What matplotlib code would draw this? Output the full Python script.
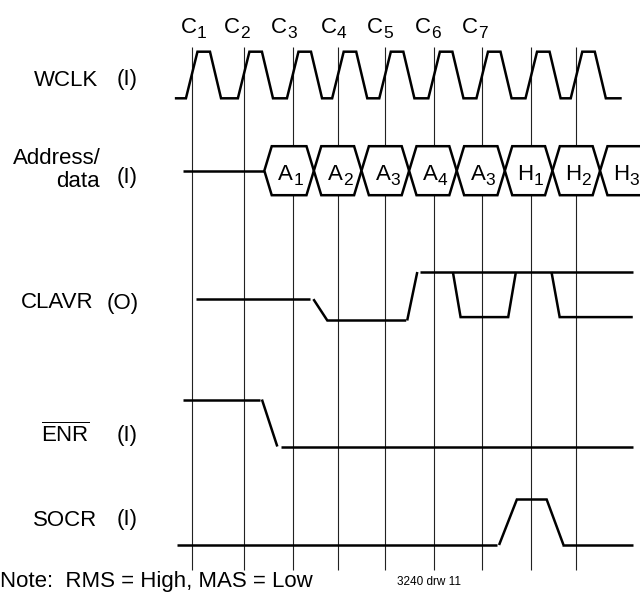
import matplotlib
matplotlib.use("Agg")
import matplotlib.pyplot as plt
from matplotlib.patches import Polygon

plt.rcParams['font.family'] = ['Liberation Sans', 'DejaVu Sans']
plt.rcParams['mathtext.default'] = 'regular'

# time axis in clock cycles, C1 rising edge = 0
edges = [0.0, 1.08, 2.10, 3.04, 4.02, 5.04, 6.04, 7.06, 8.0]
c_names = ['1', '2', '3', '4', '5', '6', '7']
c_label_t = [0.10, 1.00, 1.98, 3.01, 3.98, 4.98, 5.95]

# WCLK shape (cycles)
clk_start, clk_end = -0.35, 8.94
clk_rise, clk_high, clk_fall = 0.24, 0.26, 0.23

# address / data bus
bus_idle = (-0.18, 1.51)
bus_changes = [1.51, 2.54, 3.53, 4.52, 5.51, 6.51, 7.50, 8.49, 9.50]
bus_names = ['A', 'A', 'A', 'A', 'A', 'H', 'H', 'H']
bus_subs = ['1', '2', '3', '4', '3', '1', '2', '3']

# other signals as segments of (time, level); 1 = high, 0 = low
clavr = [
    [(0.09, 0.44), (2.46, 0.44)],
    [(2.53, 0.44), (2.82, 0.0), (4.46, 0.0)],
    [(4.48, 0.0), (4.69, 1.0)],
    [(4.75, 1.0), (9.17, 1.0)],
    [(5.43, 1.0), (5.59, 0.07), (6.58, 0.07), (6.74, 1.0)],
    [(7.48, 1.0), (7.65, 0.07), (9.17, 0.07)],
]
enr = [
    [(-0.18, 1), (1.41, 1)],
    [(1.46, 1), (1.78, 0)],
    [(1.85, 0), (9.17, 0)],
]
socr = [
    [(-0.30, 0), (6.35, 0)],
    [(6.39, 0), (6.76, 1), (7.38, 1), (7.73, 0)],
    [(7.69, 0), (9.17, 0)],
]

W, H = 640, 596
X0, T = 191.7, 48.1  # pixel of C1, pixels per cycle
LW = 1.8

fig = plt.figure(figsize=(W / 100, H / 100), dpi=100)
ax = fig.add_axes([0, 0, 1, 1])
ax.set_xlim(-X0 / T, (W - X0) / T)
ax.set_ylim(H, 0)
ax.axis('off')


def px(dx):
    return dx / T


def draw_segments(segs, base, amp):
    for seg in segs:
        ts = [p[0] for p in seg]
        ys = [base - amp * p[1] for p in seg]
        ax.plot(ts, ys, color='black', lw=LW, solid_capstyle='butt',
                solid_joinstyle='miter', zorder=2)


def sub_text(t, y, main, sub, size=16, subsize=12.5, drop=5):
    ax.text(t, y, main, ha='right', va='baseline', fontsize=size, zorder=5)
    ax.text(t, y + drop, sub, ha='left', va='baseline', fontsize=subsize, zorder=5)


# vertical reference lines
ax.vlines(edges, 47, 570, color='#222222', lw=0.8, zorder=1)

# clock labels
for t, s in zip(c_label_t, c_names):
    sub_text(t, 33.3, 'C', s)

# WCLK
clk_t = [clk_start]
clk_v = [0]
for e in edges:
    a = e - clk_rise / 2
    clk_t += [a, a + clk_rise, a + clk_rise + clk_high, a + clk_rise + clk_high + clk_fall]
    clk_v += [0, 1, 1, 0]
clk_t.append(clk_end)
clk_v.append(0)
draw_segments([list(zip(clk_t, clk_v))], 98.3, 46.6)

# bus
bus_c, bus_h, slope = 170.7, 24.5, px(7.4)
ax.plot(bus_idle, [bus_c, bus_c], color='black', lw=LW, solid_capstyle='butt', zorder=2)
for i in range(len(bus_names)):
    s, e = bus_changes[i], bus_changes[i + 1]
    hexa = Polygon([(s, bus_c), (s + slope, bus_c - bus_h), (e - slope, bus_c - bus_h),
                    (e, bus_c), (e - slope, bus_c + bus_h), (s + slope, bus_c + bus_h)],
                   closed=True, facecolor='white', edgecolor='black', lw=LW,
                   joinstyle='miter', zorder=3)
    ax.add_patch(hexa)
    sub_text(s + 0.6, 180, bus_names[i], bus_subs[i])

draw_segments(clavr, 320.5, 48.5)
draw_segments(enr, 446.5, 47)
draw_segments(socr, 545, 45.5)


# row labels (pixel positions)
def ftext(x, y, s, **kw):
    kw.setdefault('fontsize', 16)
    kw.setdefault('va', 'center')
    fig.text(x / W, 1 - y / H, s, **kw)


ftext(98.3, 80, 'WCLK', ha='right')
ftext(117, 80, '(I)', ha='left')
ftext(101, 158, 'Address/', ha='right')
ftext(100, 182, 'data', ha='right')
ftext(117, 177, '(I)', ha='left')
ftext(93.3, 303, 'CLAVR', ha='right')
ftext(107, 303, '(O)', ha='left')
ftext(90, 435, r'$\overline{\mathregular{ENR}}$', ha='right')
ftext(117, 436, '(I)', ha='left')
ftext(97, 520, 'SOCR', ha='right')
ftext(117, 520, '(I)', ha='left')
ftext(0.5, 586.7, 'Note:  RMS = High, MAS = Low', ha='left', va='baseline')
ftext(396.7, 585, '3240 drw 11', ha='left', va='baseline', fontsize=8.5)

fig.savefig('out.png', dpi=100)
